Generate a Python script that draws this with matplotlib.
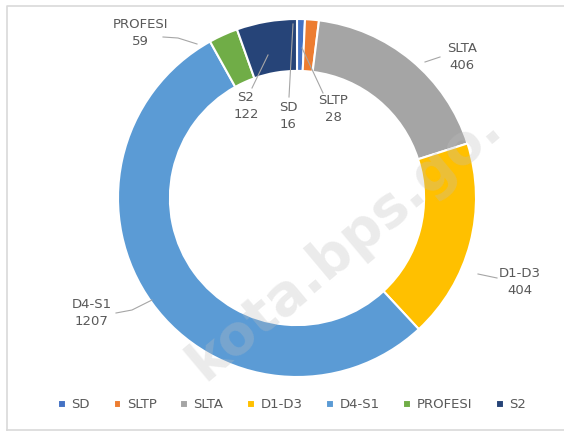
import matplotlib
matplotlib.use("Agg")
import matplotlib.pyplot as plt
import numpy as np

categories = ["SD", "SLTP", "SLTA", "D1-D3", "D4-S1", "PROFESI", "S2"]
values = [16, 28, 406, 404, 1207, 59, 122]
colors = ["#4472C4", "#ED7D31", "#A5A5A5", "#FFC000", "#5B9BD5", "#70AD47", "#264478"]

W, H = 564, 432
fig = plt.figure(figsize=(W / 100, H / 100), dpi=100)
ax = fig.add_axes([0, 0, 1, 1])
ax.set_xlim(0, W)
ax.set_ylim(0, H)
ax.set_aspect("equal")
ax.axis("off")

def Y(y):
    return H - y

cx, cy, R = 297, 198, 179
width = 0.29
wedges, _ = ax.pie(values, colors=colors, startangle=90, counterclock=False,
                   center=(cx, Y(cy)), radius=R, frame=True,
                   wedgeprops=dict(width=R * width, edgecolor="white", linewidth=1.5))
ax.set_xlim(0, W)
ax.set_ylim(0, H)
ax.axis("off")

# frame
ax.plot([7, 7, W + 5], [Y(430), Y(6), Y(6)], color="#D9D9D9", lw=1.2)
ax.plot([7, W + 5], [Y(430), Y(430)], color="#D9D9D9", lw=1.2)

# watermark
ax.text(345, Y(245), "kota.bps.go.", fontsize=40, color="#BFBFBF", alpha=0.3,
        rotation=40, ha="center", va="center", fontweight="bold", zorder=5)

txt = "#595959"
fs = 9.5
# label positions (image coords) and leader line points
labels = {
    "PROFESI": ((140, 33), [(163, 37), (178, 38), (197, 44)]),
    "S2": ((246, 106), [(252, 88), (268, 55)]),
    "SD": ((288, 116), [(289, 97), (293, 24)]),
    "SLTP": ((333, 109), [(323, 93), (302, 48)]),
    "SLTA": ((462, 57), [(440, 57), (425, 62)]),
    "D1-D3": ((520, 282), [(497, 278), (478, 274)]),
    "D4-S1": ((92, 313), [(116, 313), (132, 310), (152, 300)]),
}
for cat, val in zip(categories, values):
    (lx, ly), pts = labels[cat]
    ax.text(lx, Y(ly), f"{cat}\n{val}", ha="center", va="center", fontsize=fs,
            color=txt, linespacing=1.35, zorder=6)
    xs = [p[0] for p in pts]
    ys = [Y(p[1]) for p in pts]
    ax.plot(xs, ys, color="#A6A6A6", lw=0.8, zorder=6)

leg = ax.legend(wedges, categories, loc="center", bbox_to_anchor=(292 / W, 1 - 405 / H),
                ncol=7, frameon=False, fontsize=9.5, handlelength=0.6, handleheight=0.6,
                handletextpad=0.4, columnspacing=1.8, labelcolor=txt)
fig.savefig("out.png", dpi=100)
